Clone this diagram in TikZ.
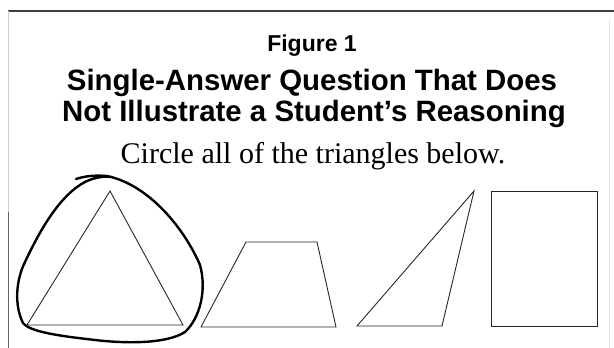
\documentclass[tikz,border=0pt]{standalone}
\usepackage{fontspec}
\setmainfont{Liberation Serif}
\setsansfont{Liberation Sans}
\begin{document}
\begin{tikzpicture}[x=1pt,y=-1pt,
  outline/.style={draw=black!85,line width=0.9pt,line join=miter},
  ttl/.style={inner sep=0pt,anchor=base},
  scribble/.style={draw=black,line width=2.4pt,line cap=round,line join=round}]
\useasboundingbox (0,0) rectangle (614,348);
% frame lines
\coordinate (tl) at (8,11);
\coordinate (tr) at (614,11);
\coordinate (lmid) at (8,212);
\coordinate (lbot) at (8,348);
\draw[black!75,line width=1.3pt] (tl) -- (tr);
\draw[black!20,line width=1pt] (tl) -- (lmid);
\draw[black!60,line width=1pt] (lmid) -- (lbot);
\draw[black!12,line width=0.6pt] (609,20) -- (609,348);
% texts
\node[ttl,font=\sffamily\bfseries\fontsize{23}{26}\selectfont] (fig) at (312,52) {Figure 1};
\node[ttl,font=\sffamily\bfseries\fontsize{29.4}{33}\selectfont] (t1) at (312,90) {Single-Answer Question That Does};
\node[ttl,font=\sffamily\bfseries\fontsize{29.4}{33}\selectfont] (t2) at (314,121) {Not Illustrate a Student's Reasoning};
\node[ttl,font=\fontsize{30}{34}\selectfont] (q) at (313,163) {Circle all of the triangles below.};
% shapes
\draw[outline] (110,191) -- (183,325) -- (27,325) -- cycle;
\draw[outline] (201,327) -- (246,242) -- (317,242) -- (336,327) -- cycle;
\draw[outline] (357,326) -- (474,191) -- (442,326) -- cycle;
\draw[outline] (491,191) rectangle (597,326);
% hand-drawn loop
\draw[scribble] (76,179) .. controls (85,176) and (95,175) .. (107,176)
  .. controls (150,185) and (185,230) .. (200,265)
  .. controls (207,290) and (200,318) .. (185,332)
  .. controls (165,345) and (120,343) .. (95,340)
  .. controls (60,336) and (30,332) .. (23,323)
  .. controls (14,305) and (16,280) .. (25,262)
  .. controls (40,230) and (60,195) .. (85,182)
  .. controls (95,177) and (105,176) .. (112,177);
\end{tikzpicture}
\end{document}
